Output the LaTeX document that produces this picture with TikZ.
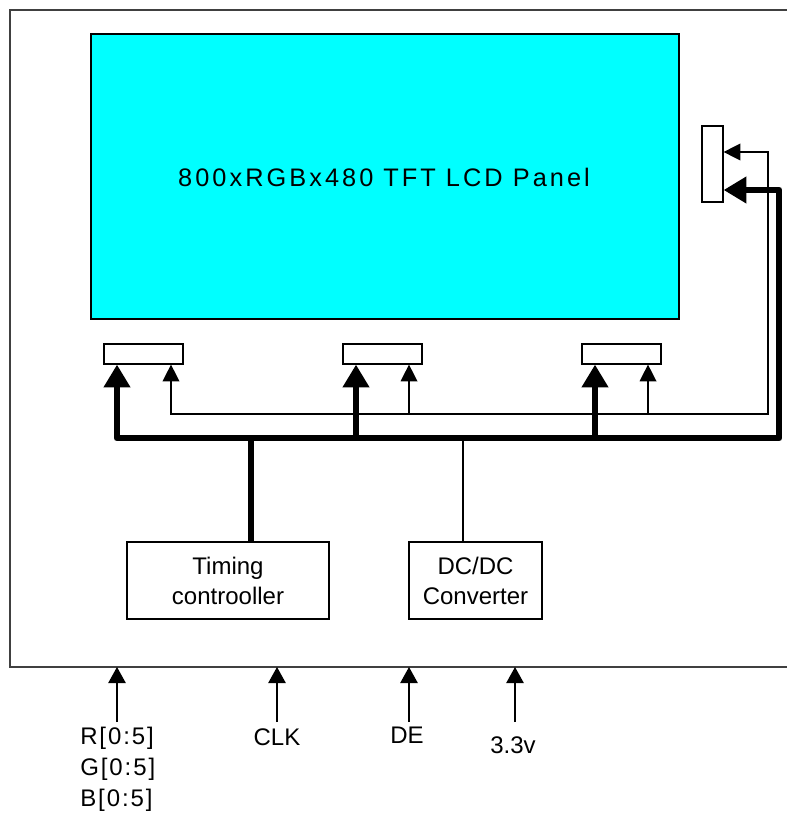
\documentclass[tikz,border=0pt]{standalone}
\usepackage{fontspec}
\setmainfont{Liberation Sans}
\usetikzlibrary{arrows.meta}
\definecolor{panelcyan}{HTML}{00FFFF}
\tikzset{
  boxn/.style={draw=black, line width=0.9pt, inner sep=0pt, fill=white},
  thk/.style={line width=5pt, line join=round},
  thn/.style={line width=1pt},
  bigtip/.style={-{Triangle[length=17pt,width=19pt]}},
  smalltip/.style={-{Triangle[length=12.5pt,width=12.5pt]}},
  lbl/.style={font=\fontsize{18}{23}\selectfont, inner sep=0pt},
}
\begin{document}
\begin{tikzpicture}[x=0.75pt,y=-0.75pt]
\useasboundingbox (0,0) rectangle (787,820);
% outer frame
\draw[black!75, line width=1.2pt] (787,10) -- (10,10) -- (10,667) -- (787,667);
% panel
\node[boxn, fill=panelcyan, minimum width=441pt, minimum height=213.75pt] (panel) at (385,176.5) {};
\node[lbl, font=\fontsize{19}{23}\selectfont\addfontfeature{LetterSpace=12}] (ptext) at (384,177) {800xRGBx480 TFT LCD Panel};
% connectors
\node[boxn, minimum width=59.25pt, minimum height=15pt] (c1) at (143.5,354) {};
\node[boxn, minimum width=59.25pt, minimum height=15pt] (c2) at (382.5,354) {};
\node[boxn, minimum width=59.25pt, minimum height=15pt] (c3) at (621.5,354) {};
\node[boxn, minimum width=15.75pt, minimum height=57pt] (rc) at (712.5,164) {};
% blocks
\node[boxn, minimum width=151.5pt, minimum height=57.75pt, align=center, font=\fontsize{18}{22.5}\selectfont] (tc) at (228,580.5) {Timing\\controoller};
\node[boxn, minimum width=99.75pt, minimum height=57.75pt, align=center, font=\fontsize{18}{22.5}\selectfont] (dc) at (475.5,580.5) {DC/DC\\Converter};
% bus coordinates
\coordinate (k1) at (117,438);
\coordinate (k2) at (356,438);
\coordinate (k3) at (595,438);
\coordinate (kr) at (779,438);
\coordinate (kt) at (779,190);
\coordinate (kj) at (251,438);
\coordinate (kd) at (463,438);
\coordinate (t1) at (171,414);
\coordinate (t2) at (409,414);
\coordinate (t3) at (648,414);
\coordinate (tr) at (768,414);
\coordinate (tt) at (768,152);
% thin bus
\draw[thn, {Triangle[length=12.5pt,width=12.5pt]}-{Triangle[length=12.5pt,width=12.5pt]}] (t1 |- c1.south) -- (t1) -- (tr) -- (tt) -- (tt -| rc.east);
\draw[thn, smalltip] (t2) -- (t2 |- c2.south);
\draw[thn, smalltip] (t3) -- (t3 |- c3.south);
\draw[thn] (kd) -- (kd |- dc.north);
% thick bus
\draw[thk, {Triangle[length=17pt,width=19pt]}-{Triangle[length=17pt,width=19pt]}] (k1 |- c1.south) -- (k1) -- (kr) -- (kt) -- (kt -| rc.east);
\draw[thk, bigtip] (k2) -- (k2 |- c2.south);
\draw[thk, bigtip] (k3) -- (k3 |- c3.south);
\draw[thk] (kj) -- (kj |- tc.north);
% inputs
\coordinate (i1) at (117,722);
\coordinate (i2) at (277,722);
\coordinate (i3) at (409,722);
\coordinate (i4) at (515,722);
\coordinate (fb1) at (117,667);
\coordinate (fb2) at (277,667);
\coordinate (fb3) at (409,667);
\coordinate (fb4) at (515,667);
\draw[thn, -{Triangle[length=12pt,width=13pt]}] (i1) -- (fb1);
\draw[thn, -{Triangle[length=12pt,width=13pt]}] (i2) -- (fb2);
\draw[thn, -{Triangle[length=12pt,width=13pt]}] (i3) -- (fb3);
\draw[thn, -{Triangle[length=12pt,width=13pt]}] (i4) -- (fb4);
\node[lbl, anchor=north west, align=left, font=\fontsize{18}{23}\selectfont\addfontfeature{LetterSpace=8}] (lrgb) at (80,727) {R[0:5]\\G[0:5]\\B[0:5]};
\node[lbl, anchor=base] (lclk) at (277,745) {CLK};
\node[lbl, anchor=base] (lde) at (407,743) {DE};
\node[lbl, anchor=base] (l33) at (513,753) {3.3v};
\end{tikzpicture}
\end{document}
